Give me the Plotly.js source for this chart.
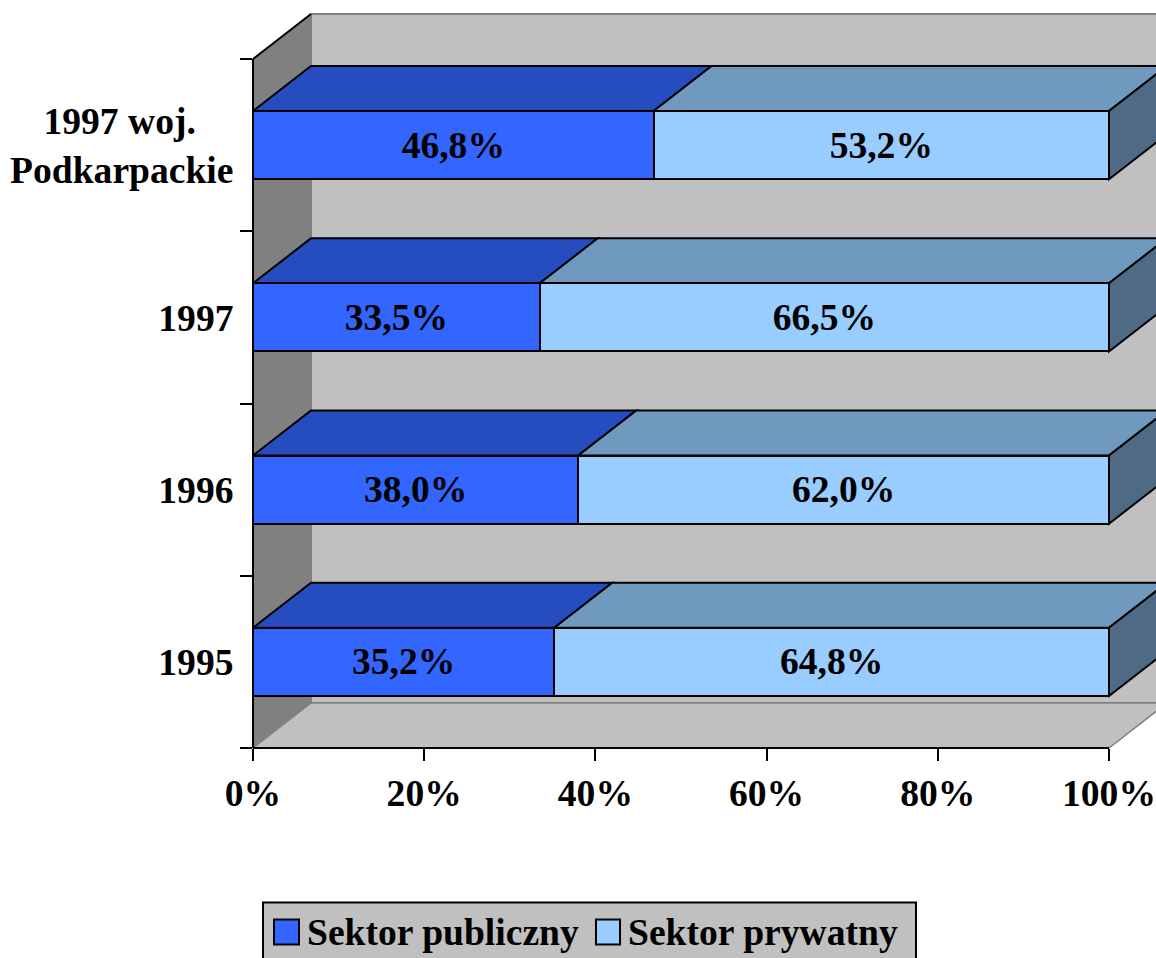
<!DOCTYPE html>
<html><head><meta charset="utf-8">
<script src="https://cdn.plot.ly/plotly-3.0.1.min.js"></script>
<style>html,body{margin:0;padding:0;background:#fff;overflow:hidden}#c{width:1156px;height:958px}</style>
</head><body><div id="c"></div>
<script>
const categories = ["1995", "1996", "1997", "1997 woj.\u00a0\u00a0\u00a0\u00a0<br>Podkarpackie"];
const publicValues = [35.2, 38.0, 33.5, 46.8];
const privateValues = [64.8, 62.0, 66.5, 53.2];
const xTicks = [0, 20, 40, 60, 80, 100];
const seriesNames = ["Sektor publiczny", "Sektor prywatny"];

const W = 1156, H = 958, L = 253, BOTTOM = 748;
const X100 = 1109, YTOP4 = 59;
const pxPerX = (X100 - L) / 100, pxPerY = (BOTTOM - YTOP4) / 4;
const xMax = (W - L) / pxPerX, yMax = BOTTOM / pxPerY;
const DX = 58 / pxPerX, DY = 45 / pxPerY, BAR = 0.396;
const px = x => (x - L) / (W - L);
const py = y => (BOTTOM - y) / BOTTOM;
const FONT = "Liberation Serif";
const font = {family: FONT, size: 37.6, color: "#000", weight: "bold"};
const ypos = categories.map((_, i) => i + 0.5);
const lab = v => v.toFixed(1).replace(".", ",") + "%";

function poly(pts, fill, lineColor, lw) {
  return {type: "path", layer: "below", xref: "x", yref: "y",
    path: "M" + pts.map(p => p.join(",")).join("L") + "Z",
    fillcolor: fill, line: {color: lineColor, width: lw}};
}
function seg(x0, y0, x1, y1, color, width) {
  return {type: "line", layer: "above", xref: "paper", yref: "paper",
    x0: px(x0), y0: py(y0), x1: px(x1), y1: py(y1), line: {color, width}};
}
const shapes = [];
// walls and floor
shapes.push(poly([[DX, DY], [DX + 100, DY], [DX + 100, 4 + DY], [DX, 4 + DY]], "#C0C0C0", "#808080", 2));
shapes.push(poly([[0, 0], [DX, DY], [DX, 4 + DY], [0, 4]], "#808080", "#808080", 1));
shapes.push(poly([[0, 0], [100, 0], [100 + DX, DY], [DX, DY]], "#C0C0C0", "#808080", 1.5));
// tops and sides of the bars
ypos.forEach((y, i) => {
  const a = publicValues[i], t = y + BAR / 2, b = y - BAR / 2;
  shapes.push(poly([[0, t], [a, t], [a + DX, t + DY], [DX, t + DY]], "#264DBF", "#000", 2));
  shapes.push(poly([[a, t], [100, t], [100 + DX, t + DY], [a + DX, t + DY]], "#7099BF", "#000", 2));
  shapes.push(poly([[100, b], [100 + DX, b + DY], [100 + DX, t + DY], [100, t]], "#4F6A85", "#000", 2));
});
// axis lines and wall edge
shapes.push(seg(L, BOTTOM, X100, BOTTOM, "#000", 2));
shapes.push(seg(L, YTOP4, L, BOTTOM, "#000", 2));
shapes.push(seg(L, YTOP4, L + 58, YTOP4 - 45, "#000", 2));
// legend
shapes.push({type: "rect", xref: "paper", yref: "paper", layer: "above",
  x0: px(263), x1: px(916), y0: py(902.5), y1: py(962),
  fillcolor: "#C0C0C0", line: {color: "#000", width: 2}});
shapes.push({type: "rect", xref: "paper", yref: "paper", layer: "above",
  x0: px(274), x1: px(299), y0: py(919.5), y1: py(944.5),
  fillcolor: "#3366FF", line: {color: "#000", width: 2}});
shapes.push({type: "rect", xref: "paper", yref: "paper", layer: "above",
  x0: px(596), x1: px(620), y0: py(919.5), y1: py(944.5),
  fillcolor: "#99CCFF", line: {color: "#000", width: 2}});

const annotations = [
  {text: seriesNames[0], xref: "paper", yref: "paper", x: px(306), y: py(932), xanchor: "left", yanchor: "middle", showarrow: false, font, borderpad: 0},
  {text: seriesNames[1], xref: "paper", yref: "paper", x: px(627), y: py(932), xanchor: "left", yanchor: "middle", showarrow: false, font, borderpad: 0}
];

const barBase = {type: "bar", orientation: "h", width: BAR, textposition: "inside", insidetextanchor: "middle",
  textangle: 0, constraintext: "none", textfont: font, insidetextfont: font, hoverinfo: "skip", cliponaxis: false};
const data = [
  Object.assign({}, barBase, {name: seriesNames[0], x: publicValues, y: ypos, text: publicValues.map(lab),
    marker: {color: "#3366FF", line: {color: "#000", width: 2}}}),
  Object.assign({}, barBase, {name: seriesNames[1], x: privateValues, y: ypos, text: privateValues.map(lab),
    marker: {color: "#99CCFF", line: {color: "#000", width: 2}}}),
  {type: "scatter", mode: "none", x: [0], y: [0], yaxis: "y2", showlegend: false, hoverinfo: "skip"}
];
const layout = {
  width: W, height: H, paper_bgcolor: "#fff", plot_bgcolor: "rgba(0,0,0,0)",
  margin: {l: L, r: 0, t: 0, b: H - BOTTOM, pad: 0},
  barmode: "stack", showlegend: false,
  xaxis: {range: [0, xMax], tickmode: "array", tickvals: xTicks, ticktext: xTicks.map(v => v + "%"),
    ticks: "outside", ticklen: 12, tickwidth: 2, tickcolor: "#000", tickfont: font,
    showgrid: false, zeroline: false, showline: false},
  yaxis: {range: [0, yMax], tickmode: "array", tickvals: ypos, ticktext: categories,
    ticks: "outside", ticklen: 11, tickcolor: "rgba(0,0,0,0)", tickfont: font,
    showgrid: false, zeroline: false, showline: false},
  yaxis2: {range: [0, yMax], overlaying: "y", side: "left", tickmode: "array", tickvals: [0, 1, 2, 3, 4],
    showticklabels: false, ticks: "outside", ticklen: 12, tickwidth: 2, tickcolor: "#000",
    showgrid: false, zeroline: false, showline: false},
  shapes, annotations
};
Plotly.newPlot("c", data, layout, {displayModeBar: false, staticPlot: true});
</script></body></html>
